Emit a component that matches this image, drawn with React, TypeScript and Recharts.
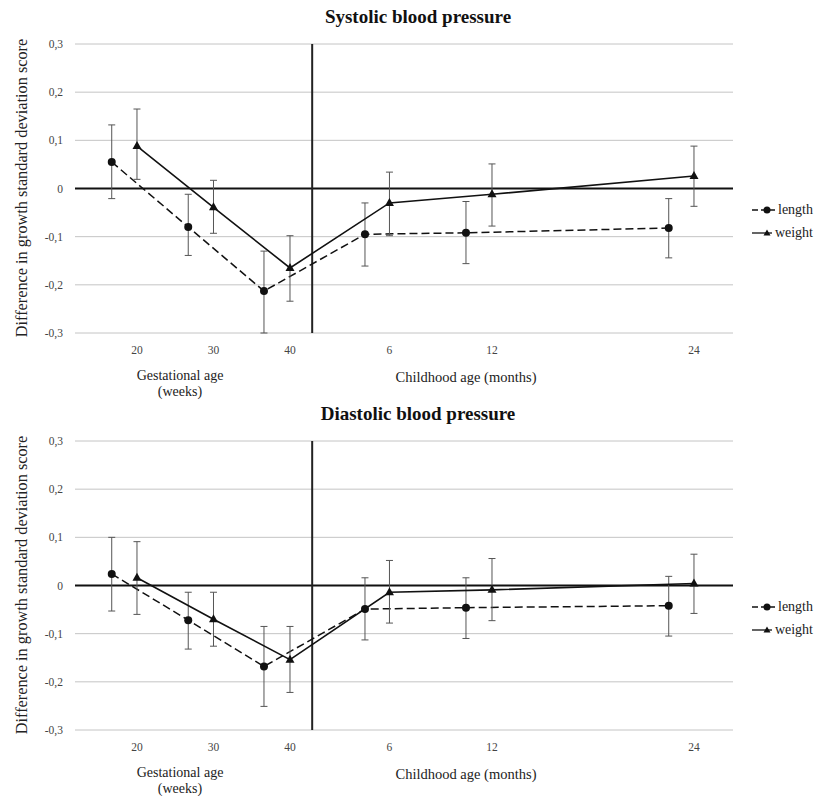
import {
  ComposedChart,
  Line,
  XAxis,
  YAxis,
  CartesianGrid,
  ReferenceLine,
  ErrorBar,
  Legend,
} from "recharts";

const FONT = '"Liberation Serif", "Times New Roman", serif';

// x positions on one shared timeline axis (gestational weeks, then childhood months)
const xTickPos = [20, 30, 40, 53, 66.4, 92.8];
const xTickLabels = ["20", "30", "40", "6", "12", "24"];
const birthPos = 42.9;
const lengthPos = [16.7, 26.7, 36.6, 49.8, 63.0, 89.5];
const weightPos = [20, 30, 40, 53, 66.4, 92.8];

const yTicks = [-0.3, -0.2, -0.1, 0, 0.1, 0.2, 0.3];

// Systolic blood pressure
const sysLengthMean = [0.055, -0.08, -0.213, -0.095, -0.092, -0.082];
const sysLengthLow = [-0.021, -0.139, -0.3, -0.161, -0.156, -0.144];
const sysLengthHigh = [0.132, -0.012, -0.13, -0.03, -0.027, -0.021];
const sysWeightMean = [0.088, -0.039, -0.165, -0.03, -0.012, 0.026];
const sysWeightLow = [0.019, -0.093, -0.234, -0.098, -0.078, -0.037];
const sysWeightHigh = [0.165, 0.017, -0.098, 0.034, 0.051, 0.088];

// Diastolic blood pressure
const diaLengthMean = [0.024, -0.072, -0.168, -0.049, -0.046, -0.042];
const diaLengthLow = [-0.053, -0.132, -0.251, -0.113, -0.11, -0.105];
const diaLengthHigh = [0.1, -0.014, -0.085, 0.016, 0.016, 0.019];
const diaWeightMean = [0.016, -0.07, -0.154, -0.014, -0.009, 0.004];
const diaWeightLow = [-0.06, -0.126, -0.222, -0.078, -0.073, -0.058];
const diaWeightHigh = [0.091, -0.014, -0.085, 0.052, 0.056, 0.065];

function buildSeries(pos: number[], mean: number[], low: number[], high: number[]) {
  return pos.map((x, i) => ({
    x,
    y: mean[i],
    err: [mean[i] - low[i], high[i] - mean[i]],
  }));
}

const Triangle = (props: any) => {
  const { cx, cy } = props;
  if (cx == null || cy == null) return null;
  return (
    <path
      d={`M${cx},${cy - 5} L${cx + 4.5},${cy + 3} L${cx - 4.5},${cy + 3} Z`}
      fill="#111"
    />
  );
};

const renderLegend = () => (
  <div style={{ fontFamily: FONT, fontSize: 14, color: "#222", paddingLeft: 19 }}>
    <div style={{ display: "flex", alignItems: "center", height: 23, whiteSpace: "nowrap" }}>
      <svg width={33} height={10}>
        <line x1={0} y1={5} x2={32} y2={5} stroke="#111" strokeWidth={1.5} strokeDasharray="6 3" />
        <circle cx={15} cy={5} r={3.5} fill="#111" />
      </svg>
      <span style={{ marginLeft: 3 }}>length</span>
    </div>
    <div style={{ display: "flex", alignItems: "center", height: 23, whiteSpace: "nowrap" }}>
      <svg width={33} height={10}>
        <line x1={0} y1={5} x2={32} y2={5} stroke="#111" strokeWidth={1.3} />
        <path d="M15,1.5 L18.5,7.5 L11.5,7.5 Z" fill="#111" />
      </svg>
      <span style={{ marginLeft: 3 }}>weight</span>
    </div>
  </div>
);

function Panel({
  top,
  title,
  length,
  weight,
}: {
  top: number;
  title: string;
  length: { x: number; y: number; err: number[] }[];
  weight: { x: number; y: number; err: number[] }[];
}) {
  const tickStyle = { fontSize: 11.5, fill: "#444", fontFamily: FONT };
  return (
    <div style={{ position: "absolute", left: 0, top, width: 825, height: 398 }}>
      <div
        style={{
          position: "absolute",
          left: 0,
          width: 836,
          top: 6,
          textAlign: "center",
          fontWeight: "bold",
          fontSize: 19,
          fontFamily: FONT,
          color: "#111",
        }}
      >
        {title}
      </div>
      <div
        style={{
          position: "absolute",
          left: 22,
          top: 188,
          transform: "translate(-50%, -50%) rotate(-90deg)",
          whiteSpace: "nowrap",
          fontSize: 16.3,
          fontFamily: FONT,
          color: "#222",
        }}
      >
        Difference in growth standard deviation score
      </div>
      <div
        style={{
          position: "absolute",
          left: 180,
          top: 368,
          transform: "translateX(-50%)",
          textAlign: "center",
          fontSize: 14,
          lineHeight: "16px",
          fontFamily: FONT,
          color: "#222",
          whiteSpace: "nowrap",
        }}
      >
        Gestational age
        <br />
        (weeks)
      </div>
      <div
        style={{
          position: "absolute",
          left: 466,
          top: 369,
          transform: "translateX(-50%)",
          fontSize: 14.5,
          lineHeight: "16px",
          fontFamily: FONT,
          color: "#222",
          whiteSpace: "nowrap",
        }}
      >
        Childhood age (months)
      </div>
      <ComposedChart
        width={825}
        height={398}
        margin={{ top: 44, right: 12, bottom: 35, left: 0 }}
        style={{ fontFamily: FONT }}
      >
        <CartesianGrid vertical={false} stroke="#c4c4c4" />
        <XAxis
          type="number"
          dataKey="x"
          domain={[11.9, 97.9]}
          allowDataOverflow
          ticks={xTickPos}
          tickFormatter={(v: number) => xTickLabels[xTickPos.indexOf(v)] ?? ""}
          axisLine={false}
          tickLine={false}
          tickSize={0}
          tickMargin={13}
          height={30}
          tick={tickStyle}
        />
        <YAxis
          type="number"
          domain={[-0.3, 0.3]}
          allowDataOverflow
          ticks={yTicks}
          tickFormatter={(v: number) => (v === 0 ? "0" : v.toFixed(1).replace(".", ","))}
          axisLine={false}
          tickLine={false}
          tickSize={0}
          tickMargin={12}
          width={75}
          tick={tickStyle}
        />
        <ReferenceLine y={0} stroke="#111" strokeWidth={2} />
        <ReferenceLine x={birthPos} stroke="#222" strokeWidth={2} />
        <Legend
          layout="vertical"
          align="right"
          verticalAlign="top"
          wrapperStyle={{ width: 80, top: 198 }}
          content={renderLegend}
        />
        <Line
          data={length}
          dataKey="y"
          name="length"
          stroke="#111"
          strokeWidth={1.5}
          strokeDasharray="8 4"
          dot={{ r: 4, fill: "#111", stroke: "#111", strokeWidth: 0 }}
          activeDot={false}
          isAnimationActive={false}
        >
          <ErrorBar dataKey="err" direction="y" width={3.5} stroke="#555" strokeWidth={1} />
        </Line>
        <Line
          data={weight}
          dataKey="y"
          name="weight"
          stroke="#111"
          strokeWidth={1.6}
          dot={<Triangle />}
          activeDot={false}
          isAnimationActive={false}
        >
          <ErrorBar dataKey="err" direction="y" width={3.5} stroke="#555" strokeWidth={1} />
        </Line>
      </ComposedChart>
    </div>
  );
}

export default function App() {
  const sysLength = buildSeries(lengthPos, sysLengthMean, sysLengthLow, sysLengthHigh);
  const sysWeight = buildSeries(weightPos, sysWeightMean, sysWeightLow, sysWeightHigh);
  const diaLength = buildSeries(lengthPos, diaLengthMean, diaLengthLow, diaLengthHigh);
  const diaWeight = buildSeries(weightPos, diaWeightMean, diaWeightLow, diaWeightHigh);

  return (
    <div
      style={{
        position: "absolute",
        left: 0,
        top: 0,
        width: 825,
        height: 796,
        background: "#fff",
        overflow: "hidden",
      }}
    >
      <Panel top={0} title="Systolic blood pressure" length={sysLength} weight={sysWeight} />
      <Panel top={397} title="Diastolic blood pressure" length={diaLength} weight={diaWeight} />
    </div>
  );
}
